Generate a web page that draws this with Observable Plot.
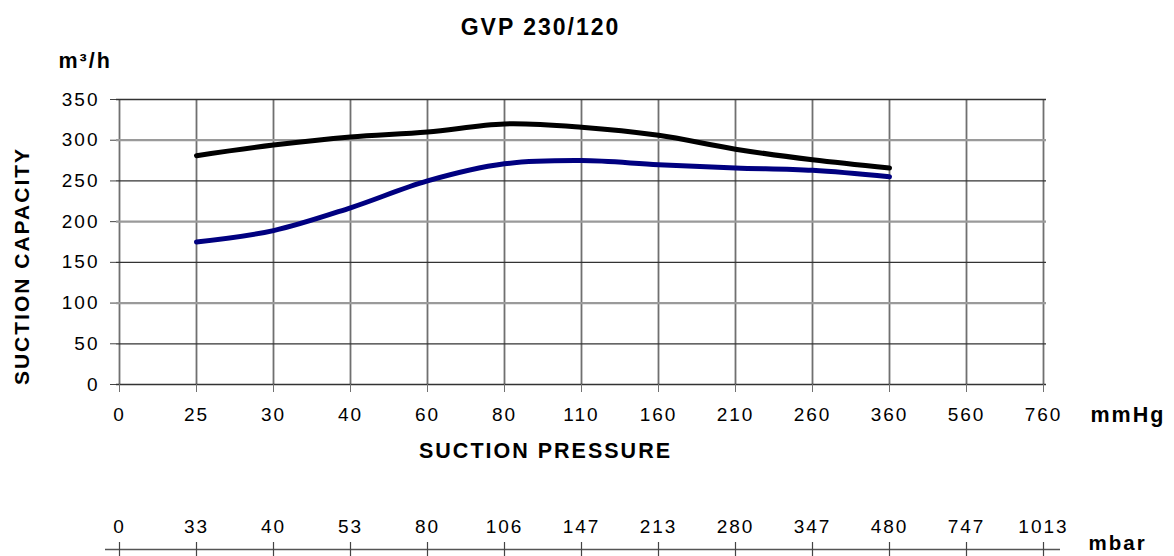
<!DOCTYPE html>
<html>
<head>
<meta charset="utf-8">
<script src="https://cdn.jsdelivr.net/npm/d3@7"></script>
<script src="https://cdn.jsdelivr.net/npm/@observablehq/plot@0.6"></script>
<style>
  html, body { margin: 0; padding: 0; background: #fff; }
  #chart svg { display: block; }
  #chart text { letter-spacing: 2px; }
</style>
</head>
<body>
<div id="chart"></div>
<script>
// ---- data ----
const title = "GVP 230/120";
const yUnit = "m³/h";
const yLabel = "SUCTION CAPACITY";
const xLabel = "SUCTION PRESSURE";
const xUnit = "mmHg";
const x2Unit = "mbar";

const pressureMmHg = ["0", "25", "30", "40", "60", "80", "110", "160", "210", "260", "360", "560", "760"];
const pressureMbar = ["0", "33", "40", "53", "80", "106", "147", "213", "280", "347", "480", "747", "1013"];
const capacityTicks = [0, 50, 100, 150, 200, 250, 300, 350];

const curvePressure = ["25", "30", "40", "60", "80", "110", "160", "210", "260", "360"];
const capacityBlack = [281, 294, 304, 310, 320, 316, 306, 289, 276, 266];
const capacityBlue  = [175, 189, 217, 250, 271, 275, 270, 266, 263, 255];

const blackData = curvePressure.map((p, i) => ({p, v: capacityBlack[i]}));
const blueData = curvePressure.map((p, i) => ({p, v: capacityBlue[i]}));

const font = "'Liberation Sans', Arial, Helvetica, sans-serif";

const main = Plot.plot({
  width: 1174,
  height: 470,
  marginTop: 99,
  marginBottom: 86,
  marginLeft: 116,
  marginRight: 128,
  style: {fontFamily: font, fontSize: "19px", color: "#000", background: "#fff", overflow: "visible"},
  x: {type: "point", domain: pressureMmHg, padding: 0},
  y: {domain: [0, 350]},
  marks: [
    Plot.ruleX(pressureMmHg, {x: d => d, stroke: "#707070", strokeWidth: 1.8}),
    Plot.ruleY(capacityTicks.filter(d => d % 100 !== 0 || d === 0), {y: d => d, stroke: "#333", strokeWidth: 1.3}),
    Plot.ruleY(capacityTicks.filter(d => d % 100 === 0 && d !== 0), {y: d => d, stroke: "#9a9a9a", strokeWidth: 2.2}),
    Plot.axisY({ticks: capacityTicks, tickSize: 6, tickPadding: 11, stroke: "#444", label: null, fontSize: 19}),
    Plot.axisX({tickSize: 8, tickPadding: 15, stroke: "#707070", label: null, fontSize: 19}),
    Plot.line(blackData, {x: "p", y: "v", stroke: "#000", strokeWidth: 5, curve: "catmull-rom"}),
    Plot.line(blueData, {x: "p", y: "v", stroke: "#000080", strokeWidth: 5, curve: "catmull-rom"}),
    Plot.text([title], {frameAnchor: "top", dx: -41, dy: -72, lineAnchor: "middle", fontWeight: "bold", fontSize: 23}),
    Plot.text([yUnit], {frameAnchor: "top-left", textAnchor: "start", dx: -58, dy: -38, lineAnchor: "middle", fontWeight: "bold", fontSize: 21.5}),
    Plot.text([yLabel], {frameAnchor: "left", rotate: -90, dx: -94, dy: 24, lineAnchor: "middle", textAnchor: "middle", fontWeight: "bold", fontSize: 21}),
    Plot.text([xLabel], {frameAnchor: "bottom", dx: -36, dy: 67, lineAnchor: "middle", fontWeight: "bold", fontSize: 21.5}),
    Plot.text([xUnit], {frameAnchor: "bottom-right", textAnchor: "start", dx: 44, dy: 31, lineAnchor: "middle", fontWeight: "bold", fontSize: 21.5})
  ]
});

const second = Plot.plot({
  width: 1174,
  height: 86,
  marginTop: 72,
  marginBottom: 0,
  marginLeft: 105,
  marginRight: 114,
  style: {fontFamily: font, fontSize: "19px", color: "#000", background: "#fff", overflow: "visible"},
  x: {type: "point", domain: pressureMbar, padding: 0, insetLeft: 10, insetRight: 13, axis: null},
  y: {domain: [-1, 1], axis: null},
  marks: [
    Plot.ruleY([0], {stroke: "#555", strokeWidth: 1.5}),
    Plot.tickX(pressureMbar, {x: d => d, stroke: "#444", strokeWidth: 1.2}),
    Plot.text(pressureMbar, {x: d => d, frameAnchor: "top", dy: -16, lineAnchor: "middle", fontSize: 19}),
    Plot.text([x2Unit], {frameAnchor: "right", textAnchor: "start", dx: 28, dy: -6, lineAnchor: "middle", fontWeight: "bold", fontSize: 20.5})
  ]
});

document.getElementById("chart").append(main, second);
</script>
</body>
</html>
